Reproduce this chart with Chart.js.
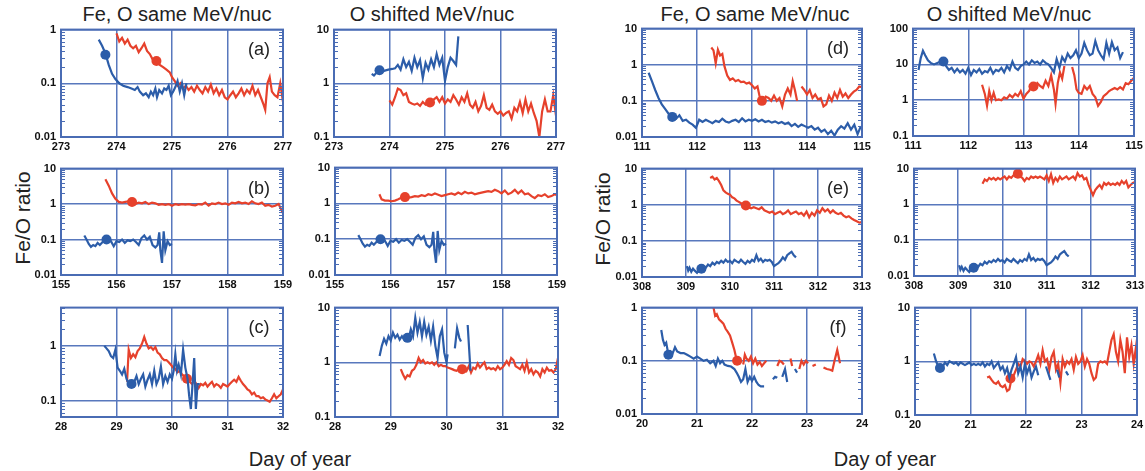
<!DOCTYPE html>
<html>
<head>
<meta charset="utf-8">
<script src="https://cdn.jsdelivr.net/npm/chart.js@4.4.1/dist/chart.umd.min.js"></script>
<style>
  body{margin:0;background:#fff;overflow:hidden;font-family:"Liberation Sans",Arial,sans-serif;}
  #fig{position:relative;width:1145px;height:471px;overflow:hidden;}
  .cv{position:absolute;}
  .txt{position:absolute;transform:translate(-50%,-50%);white-space:nowrap;color:#222;}
</style>
</head>
<body>
<div id="fig">
  <div class="txt" style="left:177px;top:14px;font-size:20px">Fe, O same MeV/nuc</div>
  <div class="txt" style="left:432px;top:14px;font-size:20px">O shifted MeV/nuc</div>
  <div class="txt" style="left:755px;top:14px;font-size:20px">Fe, O same MeV/nuc</div>
  <div class="txt" style="left:1009px;top:14px;font-size:20px">O shifted MeV/nuc</div>
  <div class="txt" style="left:23px;top:218px;font-size:21px;transform:translate(-50%,-50%) rotate(-90deg)">Fe/O ratio</div>
  <div class="txt" style="left:603px;top:219px;font-size:21px;transform:translate(-50%,-50%) rotate(-90deg)">Fe/O ratio</div>
  <div class="txt" style="left:300px;top:459px;font-size:20px">Day of year</div>
  <div class="txt" style="left:885px;top:459px;font-size:20px">Day of year</div>
</div>
<script>
// data: [day of year, Fe/O ratio], null = gap

// (a) Fe, O same MeV/nuc
const aBlue = [[273.68,0.65],[273.74,0.5],[273.8,0.36],[273.86,0.22],[273.92,0.15],[273.98,0.12],[274.05,0.1],[274.12,0.09],[274.2,0.085],[274.27,0.08],[274.33,0.075],[274.38,0.085],[274.42,0.07],[274.48,0.06],[274.53,0.065],[274.58,0.055],[274.62,0.07],[274.66,0.06],[274.7,0.08],[274.73,0.055],[274.77,0.075],[274.82,0.065],[274.86,0.08],[274.9,0.075],[274.94,0.09],[274.98,0.06],[275.02,0.07],[275.06,0.085],[275.1,0.11],[275.14,0.07],[275.18,0.1],[275.22,0.06],[275.26,0.1]];
const aRed = [[274.0,0.85],[274.05,0.6],[274.1,0.7],[274.15,0.55],[274.2,0.65],[274.25,0.5],[274.3,0.45],[274.35,0.5],[274.4,0.38],[274.45,0.45],[274.5,0.55],[274.55,0.4],[274.6,0.35],[274.65,0.28],[274.72,0.27],[274.78,0.22],[274.84,0.2],[274.9,0.18],[274.96,0.16],[275.0,0.13],[275.05,0.11],[275.1,0.09],[275.15,0.1],[275.2,0.08],[275.25,0.09],[275.3,0.075],[275.35,0.085],[275.4,0.07],[275.45,0.09],[275.5,0.075],[275.55,0.065],[275.6,0.085],[275.65,0.07],[275.7,0.095],[275.75,0.065],[275.8,0.08],[275.85,0.06],[275.9,0.075],[275.95,0.055],[276.0,0.05],[276.05,0.06],[276.1,0.07],[276.15,0.055],[276.2,0.065],[276.25,0.08],[276.3,0.06],[276.35,0.075],[276.4,0.065],[276.45,0.09],[276.5,0.06],[276.55,0.075],[276.6,0.055],[276.65,0.04],[276.68,0.032],[276.72,0.1],[276.76,0.13],[276.8,0.07],[276.85,0.06],[276.9,0.055],[276.95,0.1],[277.0,0.045]];
const aBlueDot = [273.8, 0.34];
const aRedDot = [274.72, 0.26];

// (a) O shifted
const a2Blue = [[273.68,1.5],[273.72,1.4],[273.76,1.55],[273.82,1.7],[273.9,1.7],[273.98,1.8],[274.05,1.85],[274.1,1.9],[274.15,2.2],[274.2,1.8],[274.25,2.8],[274.3,2.0],[274.35,2.5],[274.4,1.7],[274.45,3.0],[274.5,2.0],[274.55,2.7],[274.6,1.25],[274.65,2.4],[274.7,1.8],[274.75,2.8],[274.8,2.0],[274.85,3.5],[274.9,2.2],[274.95,3.0],[275.0,1.1],[275.05,2.0],[275.1,3.0],[275.15,2.6],[275.2,2.2],[275.24,7.5]];
const a2Red = [[274.0,0.48],[274.05,0.4],[274.1,0.55],[274.15,0.8],[274.2,0.75],[274.25,0.6],[274.3,0.65],[274.35,0.45],[274.4,0.42],[274.45,0.4],[274.5,0.42],[274.55,0.38],[274.6,0.45],[274.65,0.4],[274.7,0.43],[274.75,0.45],[274.8,0.5],[274.85,0.55],[274.9,0.45],[274.95,0.55],[275.0,0.42],[275.05,0.5],[275.1,0.45],[275.15,0.6],[275.2,0.5],[275.25,0.4],[275.3,0.55],[275.35,0.45],[275.4,0.65],[275.45,0.4],[275.5,0.35],[275.55,0.45],[275.6,0.3],[275.65,0.38],[275.7,0.6],[275.75,0.35],[275.8,0.32],[275.85,0.4],[275.9,0.3],[275.95,0.27],[276.0,0.3],[276.05,0.25],[276.1,0.28],[276.15,0.3],[276.2,0.22],[276.25,0.35],[276.3,0.3],[276.35,0.45],[276.4,0.28],[276.45,0.5],[276.5,0.3],[276.55,0.42],[276.6,0.28],[276.65,0.2],[276.7,0.1],[276.75,0.3],[276.8,0.5],[276.85,0.3],[276.9,0.3],[276.95,0.6],[277.0,0.25]];
const a2BlueDot = [273.82, 1.75];
const a2RedDot = [274.73, 0.44];

// (b) Fe, O same MeV/nuc
const bBlue = [[155.42,0.13],[155.46,0.1],[155.5,0.075],[155.54,0.062],[155.58,0.07],[155.62,0.065],[155.66,0.08],[155.7,0.07],[155.75,0.085],[155.8,0.1],[155.85,0.095],[155.9,0.09],[155.95,0.065],[156.0,0.09],[156.05,0.085],[156.1,0.1],[156.15,0.08],[156.2,0.095],[156.25,0.09],[156.3,0.1],[156.35,0.085],[156.4,0.07],[156.45,0.11],[156.5,0.13],[156.55,0.1],[156.6,0.12],[156.65,0.07],[156.7,0.06],[156.74,0.07],[156.77,0.16],[156.79,0.05],[156.82,0.022],[156.85,0.17],[156.88,0.05],[156.92,0.09],[156.96,0.07],[157.0,0.075]];
const bRed = [[155.8,5],[155.86,3.3],[155.92,2.0],[155.98,1.4],[156.04,1.15],[156.1,1.1],[156.16,1.15],[156.22,1.2],[156.28,1.15],[156.34,1.0],[156.4,1.1],[156.46,1.05],[156.52,1.15],[156.58,1.0],[156.64,1.1],[156.7,1.05],[156.76,0.95],[156.82,1.0],[156.88,0.95],[156.94,1.0],[157.0,0.9],[157.06,1.0],[157.12,0.95],[157.18,1.0],[157.24,0.97],[157.3,1.0],[157.36,0.95],[157.42,0.92],[157.48,1.0],[157.54,0.97],[157.6,1.1],[157.66,0.9],[157.72,1.05],[157.78,1.0],[157.84,1.1],[157.9,1.0],[157.96,1.05],[158.02,0.95],[158.08,1.1],[158.14,1.05],[158.2,1.15],[158.26,1.05],[158.32,1.1],[158.38,1.0],[158.44,1.2],[158.5,1.05],[158.56,1.0],[158.62,1.1],[158.68,0.9],[158.74,0.95],[158.8,0.85],[158.86,0.9],[158.92,1.0],[158.96,0.75],[159.0,0.55]];
const bBlueDot = [155.82, 0.1];
const bRedDot = [156.28, 1.15];

// (b) O shifted (Fe curve is the same as in (b))
const b2Blue = bBlue;
const b2Red = [[155.8,1.8],[155.84,1.3],[155.9,1.2],[155.96,1.2],[156.02,1.15],[156.08,1.2],[156.14,1.3],[156.2,1.45],[156.26,1.5],[156.32,1.45],[156.38,1.5],[156.44,1.6],[156.5,1.55],[156.56,1.7],[156.62,1.6],[156.68,1.8],[156.74,1.7],[156.8,1.9],[156.86,1.75],[156.92,1.6],[156.98,1.7],[157.04,1.8],[157.1,1.9],[157.16,1.75],[157.22,2.0],[157.28,1.8],[157.34,2.1],[157.4,1.9],[157.46,2.0],[157.52,1.8],[157.58,1.9],[157.64,2.0],[157.7,2.1],[157.76,2.2],[157.82,2.1],[157.88,2.4],[157.94,2.2],[158.0,1.9],[158.06,2.3],[158.12,1.8],[158.18,2.0],[158.24,2.4],[158.3,1.9],[158.36,2.3],[158.42,1.8],[158.48,1.9],[158.54,1.6],[158.6,1.4],[158.66,1.7],[158.72,1.6],[158.78,1.8],[158.84,1.5],[158.9,1.6],[158.96,1.8],[159.0,1.7]];
const b2BlueDot = [155.82, 0.1];
const b2RedDot = [156.26, 1.5];

// (c) Fe, O same MeV/nuc
const cBlue = [[28.78,1.0],[28.82,0.9],[28.86,0.8],[28.9,0.65],[28.94,0.6],[28.98,0.85],[29.02,0.4],[29.06,0.35],[29.1,0.3],[29.14,0.38],[29.18,0.25],[29.22,0.2],[29.27,0.2],[29.32,0.22],[29.36,0.28],[29.4,0.2],[29.44,0.25],[29.48,0.3],[29.52,0.18],[29.56,0.24],[29.6,0.3],[29.64,0.2],[29.68,0.35],[29.72,0.2],[29.76,0.25],[29.8,0.42],[29.84,0.2],[29.88,0.28],[29.92,0.22],[29.96,0.3],[30.0,0.25],[30.03,0.35],[30.06,0.7],[30.09,0.35],[30.12,0.45],[30.16,0.3],[30.2,0.85],[30.24,0.4],[30.28,0.25],[30.31,0.12],[30.34,0.07],[30.37,0.2],[30.4,0.6],[30.43,0.07],[30.46,0.2],[30.5,0.2]];
const cRed = [[29.19,0.22],[29.22,0.85],[29.26,0.6],[29.3,0.7],[29.34,0.62],[29.38,0.8],[29.42,0.9],[29.46,1.1],[29.5,1.45],[29.54,1.1],[29.58,0.9],[29.62,0.95],[29.66,0.85],[29.7,0.95],[29.74,0.75],[29.78,0.7],[29.82,0.6],[29.86,0.55],[29.9,0.55],[29.94,0.5],[29.98,0.45],[30.02,0.4],[30.06,0.38],[30.1,0.33],[30.14,0.35],[30.18,0.3],[30.22,0.28],[30.27,0.25],[30.32,0.22],[30.36,0.2],[30.4,0.23],[30.44,0.2],[30.48,0.17],[30.52,0.2],[30.56,0.19],[30.6,0.21],[30.64,0.18],[30.68,0.2],[30.72,0.22],[30.76,0.18],[30.8,0.2],[30.84,0.19],[30.88,0.17],[30.92,0.2],[30.96,0.19],[31.0,0.18],[31.04,0.2],[31.08,0.22],[31.12,0.24],[31.16,0.22],[31.2,0.27],[31.24,0.23],[31.28,0.2],[31.32,0.18],[31.36,0.16],[31.4,0.15],[31.44,0.13],[31.48,0.14],[31.52,0.12],[31.56,0.12],[31.6,0.11],[31.64,0.115],[31.68,0.105],[31.72,0.1],[31.76,0.095],[31.8,0.11],[31.84,0.13],[31.88,0.11],[31.92,0.12],[31.96,0.13],[32.0,0.16]];
const cBlueDot = [29.27, 0.2];
const cRedDot = [30.27, 0.25];

// (c) O shifted
const c2Blue = [[28.8,1.3],[28.84,2.0],[28.88,2.7],[28.92,2.2],[28.96,3.0],[29.0,2.5],[29.04,3.5],[29.08,2.8],[29.12,3.2],[29.16,2.6],[29.2,3.0],[29.24,2.6],[29.28,3.0],[29.32,2.7],[29.36,4.0],[29.4,3.0],[29.44,6.5],[29.48,3.5],[29.52,5.5],[29.56,3.0],[29.6,5.5],[29.64,3.2],[29.68,4.5],[29.72,2.5],[29.76,4.5],[29.8,2.0],[29.84,1.2],[29.88,3.0],[29.92,4.0],[29.96,1.5],[30.0,1.0],[30.02,1.4],[30.05,null],[30.15,1.8],[30.19,4.2],[30.23,2.8],[30.26,2.4],[30.3,null],[30.38,4.8],[30.43,0.7]];
const c2Red = [[29.18,0.75],[29.22,0.6],[29.26,0.5],[29.3,0.58],[29.34,0.55],[29.38,0.7],[29.42,0.75],[29.46,0.9],[29.5,1.2],[29.54,1.0],[29.58,1.1],[29.62,0.95],[29.66,1.0],[29.7,0.95],[29.74,1.0],[29.78,0.9],[29.82,1.0],[29.86,0.85],[29.9,0.9],[29.94,0.85],[29.98,0.85],[30.02,0.8],[30.06,0.78],[30.1,0.75],[30.14,0.72],[30.18,0.7],[30.22,0.75],[30.28,0.77],[30.32,0.8],[30.36,0.7],[30.4,0.85],[30.44,0.65],[30.48,0.8],[30.52,0.75],[30.56,0.95],[30.6,0.8],[30.64,0.9],[30.68,1.0],[30.72,0.75],[30.76,0.8],[30.8,0.75],[30.84,0.78],[30.88,0.72],[30.92,0.85],[30.96,0.75],[31.0,0.8],[31.04,0.9],[31.08,1.05],[31.12,0.9],[31.16,1.2],[31.2,1.1],[31.24,0.85],[31.28,0.8],[31.32,0.75],[31.36,0.9],[31.4,0.7],[31.44,1.0],[31.48,0.65],[31.52,0.75],[31.56,0.6],[31.6,0.7],[31.64,0.65],[31.68,0.55],[31.72,0.75],[31.76,0.65],[31.8,0.8],[31.84,0.7],[31.88,0.72],[31.92,0.65],[31.96,0.75],[32.0,1.2]];
const c2BlueDot = [29.3, 2.8];
const c2RedDot = [30.28, 0.75];

// (d) Fe, O same MeV/nuc
const dBlue = [[111.12,0.6],[111.18,0.35],[111.24,0.2],[111.3,0.12],[111.36,0.08],[111.42,0.06],[111.48,0.045],[111.55,0.036],[111.62,0.032],[111.68,0.04],[111.74,0.028],[111.8,0.03],[111.86,0.025],[111.92,0.022],[111.98,0.018],[112.04,0.03],[112.1,0.026],[112.16,0.03],[112.22,0.027],[112.28,0.024],[112.34,0.028],[112.4,0.026],[112.46,0.032],[112.52,0.027],[112.58,0.025],[112.64,0.028],[112.7,0.03],[112.76,0.026],[112.82,0.033],[112.88,0.027],[112.94,0.03],[113.0,0.028],[113.06,0.031],[113.12,0.027],[113.18,0.03],[113.24,0.026],[113.3,0.028],[113.36,0.025],[113.42,0.027],[113.48,0.024],[113.54,0.026],[113.6,0.023],[113.66,0.025],[113.72,0.02],[113.78,0.023],[113.84,0.019],[113.9,0.022],[113.96,0.02],[114.02,0.018],[114.08,0.02],[114.14,0.016],[114.2,0.018],[114.26,0.014],[114.32,0.016],[114.38,0.012],[114.44,0.015],[114.5,0.011],[114.56,0.016],[114.62,0.02],[114.68,0.017],[114.74,0.024],[114.8,0.016],[114.86,0.022],[114.92,0.012],[114.98,0.02]];
const dRed = [[112.26,3.0],[112.3,2.5],[112.34,1.1],[112.38,2.6],[112.42,1.8],[112.46,2.0],[112.5,0.9],[112.55,0.5],[112.6,0.38],[112.65,0.42],[112.7,0.35],[112.75,0.38],[112.8,0.33],[112.85,0.34],[112.9,0.3],[112.95,0.32],[113.0,0.27],[113.05,0.22],[113.1,0.25],[113.15,0.11],[113.2,0.1],[113.25,0.13],[113.3,0.12],[113.35,0.1],[113.4,0.14],[113.45,0.1],[113.5,0.12],[113.55,0.07],[113.6,0.15],[113.65,0.22],[113.7,0.15],[113.74,0.35],[113.78,0.2],[113.82,0.1],[113.86,null],[113.9,0.25],[113.95,0.2],[114.0,0.15],[114.05,0.2],[114.1,0.12],[114.15,0.15],[114.2,0.11],[114.25,0.12],[114.3,0.07],[114.35,0.08],[114.4,0.14],[114.45,0.1],[114.5,0.17],[114.55,0.12],[114.6,0.2],[114.65,0.13],[114.7,0.16],[114.75,0.12],[114.8,0.15],[114.85,0.18],[114.9,0.2],[114.95,0.25],[115.0,0.24]];
const dBlueDot = [111.55, 0.036];
const dRedDot = [113.18, 0.1];

// (d) O shifted
const d2Blue = [[111.1,7],[111.14,15],[111.18,24],[111.22,18],[111.27,13],[111.32,11],[111.38,10],[111.44,11],[111.5,12],[111.55,12],[111.6,9],[111.65,7],[111.7,8],[111.75,6],[111.8,7.5],[111.85,6],[111.9,7],[111.95,5.5],[112.0,8],[112.05,5],[112.1,7],[112.15,6],[112.2,7.5],[112.25,5.5],[112.3,6.5],[112.35,6],[112.4,8],[112.45,5.5],[112.5,7],[112.55,6.5],[112.6,8],[112.65,6],[112.7,9],[112.75,7],[112.8,12],[112.85,8],[112.9,7],[112.95,9],[113.0,10],[113.05,12],[113.1,10],[113.15,13],[113.2,11],[113.25,12],[113.3,10],[113.35,13],[113.4,11],[113.45,10],[113.5,8],[113.55,6],[113.6,14],[113.65,8],[113.7,16],[113.75,12],[113.8,20],[113.85,15],[113.9,18],[113.95,25],[114.0,15],[114.05,20],[114.1,40],[114.15,25],[114.2,18],[114.25,20],[114.3,45],[114.35,25],[114.4,18],[114.45,14],[114.5,40],[114.55,20],[114.6,42],[114.65,25],[114.7,30],[114.75,15],[114.8,22]];
const d2Red = [[112.25,2.7],[112.3,1.5],[112.34,0.7],[112.38,1.8],[112.42,1.0],[112.46,1.6],[112.5,1.0],[112.55,1.05],[112.6,1.0],[112.65,1.2],[112.7,1.1],[112.75,1.4],[112.8,1.2],[112.85,1.5],[112.9,1.3],[112.95,1.8],[113.0,1.1],[113.05,1.5],[113.1,1.8],[113.15,2.5],[113.2,2.2],[113.25,3.0],[113.3,2.5],[113.35,2.2],[113.4,3.5],[113.45,2.5],[113.5,5],[113.55,2.0],[113.58,0.8],[113.62,3],[113.66,6],[113.7,4],[113.74,9],[113.78,null],[113.88,8.5],[113.92,5],[113.96,2],[114.0,1.6],[114.05,1.5],[114.1,2.5],[114.15,2],[114.2,2.5],[114.25,1.5],[114.3,1.2],[114.35,0.7],[114.4,0.9],[114.45,1.3],[114.5,1.5],[114.55,1.8],[114.6,2.0],[114.65,2.2],[114.7,2.0],[114.75,2.3],[114.8,2.0],[114.85,3.0],[114.9,2.8],[114.95,3.5],[115.0,4.2]];
const d2BlueDot = [111.55, 12];
const d2RedDot = [113.18, 2.4];

// (e) Fe, O same MeV/nuc
const eBlue = [[309.02,0.02],[309.05,0.015],[309.08,0.018],[309.12,0.014],[309.16,0.017],[309.2,0.015],[309.25,0.013],[309.3,0.016],[309.35,0.017],[309.4,0.02],[309.45,0.018],[309.5,0.022],[309.55,0.02],[309.6,0.025],[309.65,0.022],[309.7,0.026],[309.75,0.024],[309.8,0.028],[309.85,0.025],[309.9,0.03],[309.95,0.026],[310.0,0.028],[310.05,0.024],[310.1,0.03],[310.15,0.027],[310.2,0.025],[310.25,0.03],[310.3,0.026],[310.35,0.023],[310.4,0.028],[310.45,0.025],[310.5,0.03],[310.55,0.027],[310.6,0.04],[310.65,0.028],[310.7,0.032],[310.75,0.026],[310.8,0.03],[310.85,0.028],[310.9,0.03],[310.95,0.026],[311.0,0.02],[311.05,0.022],[311.1,0.024],[311.15,0.028],[311.2,0.035],[311.25,0.03],[311.3,0.04],[311.35,0.045],[311.4,0.05],[311.45,0.04],[311.5,0.035]];
const eRed = [[309.55,5.5],[309.6,6],[309.65,5],[309.7,5.5],[309.75,4.5],[309.8,3.5],[309.85,2.5],[309.9,2.2],[309.95,2.0],[310.0,1.9],[310.05,1.6],[310.1,1.5],[310.15,1.3],[310.2,1.2],[310.25,1.1],[310.3,1.0],[310.36,0.95],[310.42,0.85],[310.48,0.8],[310.54,0.85],[310.6,0.8],[310.66,0.75],[310.72,0.85],[310.78,0.7],[310.84,0.65],[310.9,0.6],[310.96,0.65],[311.02,0.55],[311.08,0.6],[311.14,0.65],[311.2,0.55],[311.26,0.6],[311.32,0.7],[311.38,0.55],[311.44,0.6],[311.5,0.65],[311.56,0.55],[311.62,0.6],[311.68,0.5],[311.74,0.65],[311.8,0.45],[311.86,0.6],[311.92,0.5],[311.98,0.7],[312.04,0.6],[312.1,0.8],[312.16,0.65],[312.22,0.75],[312.28,0.6],[312.34,0.7],[312.4,0.6],[312.46,0.55],[312.52,0.6],[312.58,0.5],[312.64,0.45],[312.7,0.48],[312.76,0.42],[312.82,0.38],[312.88,0.35],[312.94,0.32],[313.0,0.33]];
const eBlueDot = [309.35, 0.017];
const eRedDot = [310.36, 0.95];

// (e) O shifted (Fe curve is the same as in (e))
const e2Blue = eBlue;
const e2Red = [[309.55,3.8],[309.6,5],[309.65,4.5],[309.7,5.5],[309.75,5],[309.8,5.5],[309.85,4.8],[309.9,5.5],[309.95,5],[310.0,5.5],[310.05,6],[310.1,5],[310.15,6],[310.2,5.5],[310.25,6.5],[310.3,6.5],[310.35,7.2],[310.4,6],[310.45,5.5],[310.5,4.5],[310.55,5.5],[310.6,5],[310.65,6],[310.7,5.5],[310.75,6],[310.8,5.5],[310.85,6],[310.9,5.5],[310.95,5],[311.0,6.5],[311.05,4.5],[311.1,7],[311.15,4],[311.2,5.5],[311.25,4.5],[311.3,6],[311.35,5],[311.4,5.5],[311.45,6],[311.5,5],[311.55,5.5],[311.6,6],[311.65,5],[311.7,7.5],[311.75,6],[311.8,6.5],[311.85,5],[311.9,5.5],[311.95,3.5],[312.0,2.5],[312.05,1.8],[312.1,2.5],[312.15,3],[312.2,3.5],[312.25,2.8],[312.3,4],[312.35,3.5],[312.4,4],[312.45,3.5],[312.5,3.8],[312.55,3.5],[312.6,4],[312.65,3.5],[312.7,4.5],[312.75,3.8],[312.8,4.5],[312.85,3],[312.9,3.5],[312.95,4],[313.0,4.2]];
const e2BlueDot = [309.35, 0.017];
const e2RedDot = [310.35, 7.2];

// (f) Fe, O same MeV/nuc
const fBlue = [[20.35,0.38],[20.38,0.25],[20.41,0.2],[20.44,0.22],[20.48,0.13],[20.52,0.15],[20.56,0.14],[20.6,0.18],[20.64,0.15],[20.7,0.14],[20.76,0.14],[20.82,0.13],[20.88,0.12],[20.94,0.11],[21.0,0.12],[21.06,0.11],[21.12,0.1],[21.18,0.105],[21.24,0.09],[21.3,0.1],[21.34,0.08],[21.38,0.11],[21.42,0.09],[21.46,0.1],[21.5,0.085],[21.56,0.08],[21.62,0.078],[21.68,0.07],[21.72,0.06],[21.76,0.05],[21.8,0.04],[21.84,0.045],[21.88,0.07],[21.92,0.04],[21.96,0.05],[22.0,0.042],[22.04,0.05],[22.08,0.04],[22.12,0.035],[22.16,0.033],[22.22,0.033],[22.26,null],[22.38,0.045],[22.42,0.05],[22.46,0.048],[22.5,null],[22.55,0.05],[22.6,0.07],[22.64,0.04],[22.68,null],[22.78,0.07],[22.82,0.06]];
const fRed = [[21.3,1.0],[21.33,0.7],[21.36,0.75],[21.4,0.6],[21.44,0.55],[21.48,0.5],[21.52,0.4],[21.56,0.35],[21.6,0.3],[21.64,0.22],[21.68,0.16],[21.72,0.105],[21.76,null],[21.84,0.085],[21.87,0.13],[21.9,0.11],[21.94,0.1],[21.98,0.12],[22.02,0.09],[22.06,0.11],[22.1,0.085],[22.14,0.095],[22.18,0.08],[22.22,0.09],[22.26,0.1],[22.3,null],[22.46,0.08],[22.5,0.1],[22.54,0.095],[22.58,0.085],[22.62,null],[22.7,0.11],[22.73,0.08],[22.76,null],[22.86,0.07],[22.9,0.1],[22.94,0.085],[22.98,0.1],[23.02,0.09],[23.05,null],[23.1,0.08],[23.16,0.085],[23.2,null],[23.3,0.075],[23.36,0.07],[23.42,0.068],[23.46,0.065],[23.5,0.1],[23.55,0.16],[23.6,0.09]];
const fBlueDot = [20.48, 0.13];
const fRedDot = [21.73, 0.1];

// (f) O shifted
const f2Blue = [[20.34,1.4],[20.38,1.0],[20.42,0.8],[20.46,0.75],[20.5,0.8],[20.54,0.95],[20.58,0.85],[20.62,1.0],[20.66,0.95],[20.7,0.9],[20.74,0.95],[20.78,0.85],[20.82,0.95],[20.86,0.9],[20.9,0.85],[20.94,0.9],[20.98,0.95],[21.02,0.85],[21.06,0.9],[21.1,0.85],[21.14,0.9],[21.18,0.85],[21.22,0.95],[21.26,0.8],[21.3,0.9],[21.34,0.85],[21.38,1.0],[21.42,0.75],[21.46,0.85],[21.5,0.95],[21.54,0.7],[21.58,0.8],[21.62,0.6],[21.66,0.75],[21.7,0.5],[21.74,0.7],[21.78,0.9],[21.82,1.2],[21.86,0.6],[21.9,0.8],[21.94,0.5],[21.98,0.9],[22.02,0.6],[22.06,0.8],[22.1,0.5],[22.14,0.65],[22.18,0.8],[22.22,0.55],[22.26,null],[22.36,0.8],[22.4,0.6],[22.44,0.45],[22.48,null],[22.56,0.7],[22.6,0.5],[22.64,null],[22.72,0.65],[22.76,0.55]];
const f2Red = [[21.3,0.5],[21.34,0.52],[21.38,0.45],[21.42,0.4],[21.46,0.38],[21.5,0.42],[21.54,0.35],[21.58,0.33],[21.62,0.36],[21.66,0.28],[21.7,0.3],[21.74,0.48],[21.78,0.55],[21.82,0.7],[21.86,0.9],[21.9,0.8],[21.94,1.1],[21.98,1.0],[22.02,0.9],[22.06,1.0],[22.1,0.95],[22.14,0.8],[22.18,1.0],[22.22,1.3],[22.26,0.9],[22.3,1.6],[22.34,1.0],[22.38,1.1],[22.42,0.7],[22.46,1.2],[22.5,1.5],[22.54,0.7],[22.58,0.9],[22.62,0.4],[22.66,1.1],[22.7,0.8],[22.74,1.0],[22.78,0.9],[22.82,1.1],[22.86,0.7],[22.9,1.2],[22.94,0.9],[22.98,1.0],[23.02,1.3],[23.06,0.8],[23.1,1.1],[23.14,0.9],[23.18,0.6],[23.22,0.45],[23.26,0.5],[23.3,0.9],[23.34,1.0],[23.38,0.95],[23.42,1.0],[23.46,0.9],[23.5,1.5],[23.54,2.5],[23.58,3.2],[23.62,1.5],[23.66,1.0],[23.7,2.5],[23.74,1.5],[23.78,0.6],[23.82,2.8],[23.86,1.2],[23.9,2.0],[23.94,0.9],[23.98,1.8],[24.0,1.0]];
const f2BlueDot = [20.45, 0.75];
const f2RedDot = [21.72, 0.48];

// axis ranges
const aDays = [273, 277], bDays = [155, 159], cDays = [28, 32];
const dDays = [111, 115], eDays = [308, 313], fDays = [20, 24];

const BLUE  = '#2c5da9';
const RED   = '#e6412c';
const FRAME = '#4a6cb4';
const GRID  = '#5878bd';
const AXW = 45, AXH = 20, PADT = 10, PADR = 18;

// layout: chart area boxes [left, top, right, bottom]
const panels = [
  {box:[61,28,283,137],   x:aDays, y:[0.01,1],  blue:aBlue,  red:aRed,  bd:aBlueDot,  rd:aRedDot,  label:'(a)'},
  {box:[334,28,556,137],  x:aDays, y:[0.1,10],  blue:a2Blue, red:a2Red, bd:a2BlueDot, rd:a2RedDot},
  {box:[642,27,862,137],  x:dDays, y:[0.01,10], blue:dBlue,  red:dRed,  bd:dBlueDot,  rd:dRedDot,  label:'(d)'},
  {box:[913,27,1134,136], x:dDays, y:[0.1,100], blue:d2Blue, red:d2Red, bd:d2BlueDot, rd:d2RedDot},
  {box:[61,167,283,275],  x:bDays, y:[0.01,10], blue:bBlue,  red:bRed,  bd:bBlueDot,  rd:bRedDot,  label:'(b)'},
  {box:[335,166,557,275], x:bDays, y:[0.01,10], blue:b2Blue, red:b2Red, bd:b2BlueDot, rd:b2RedDot},
  {box:[642,167,862,277], x:eDays, y:[0.01,10], blue:eBlue,  red:eRed,  bd:eBlueDot,  rd:eRedDot,  label:'(e)'},
  {box:[914,167,1135,276],x:eDays, y:[0.01,10], blue:e2Blue, red:e2Red, bd:e2BlueDot, rd:e2RedDot},
  {box:[61,306,283,417],  x:cDays, y:[0.05,5],  blue:cBlue,  red:cRed,  bd:cBlueDot,  rd:cRedDot,  label:'(c)'},
  {box:[335,306,558,417], x:cDays, y:[0.1,10],  blue:c2Blue, red:c2Red, bd:c2BlueDot, rd:c2RedDot},
  {box:[642,306,862,414], x:fDays, y:[0.01,1],  blue:fBlue,  red:fRed,  bd:fBlueDot,  rd:fRedDot,  label:'(f)'},
  {box:[915,306,1137,415],x:fDays, y:[0.1,10],  blue:f2Blue, red:f2Red, bd:f2BlueDot, rd:f2RedDot}
];

function isDecade(v){
  const l = Math.log10(v);
  return Math.abs(l - Math.round(l)) < 1e-6;
}

function logTicks(min, max){
  const out = [];
  for(let e = Math.floor(Math.log10(min)); e <= Math.ceil(Math.log10(max)); e++){
    for(let m = 1; m < 10; m++){
      const v = +(m * Math.pow(10, e)).toPrecision(6);
      if(v >= min*0.9999 && v <= max*1.0001) out.push({value:v});
    }
  }
  return out;
}

const toPts = arr => arr.map(([x, y]) => ({x, y}));

// frame, inside minor ticks and panel letter
const framePlugin = {
  id:'frame',
  afterDatasetsDraw(chart, args, opts){
    const {ctx, chartArea:a} = chart;
    const y = chart.scales.y;
    ctx.save();
    ctx.strokeStyle = FRAME;
    ctx.lineWidth = 1;
    y.ticks.forEach(t=>{
      if(isDecade(t.value)) return;
      const py = Math.round(y.getPixelForValue(t.value)) + 0.5;
      ctx.beginPath();
      ctx.moveTo(a.left, py);  ctx.lineTo(a.left+4, py);
      ctx.moveTo(a.right, py); ctx.lineTo(a.right-4, py);
      ctx.stroke();
    });
    ctx.lineWidth = 2;
    ctx.strokeRect(a.left, a.top, a.right-a.left, a.bottom-a.top);
    if(opts.label){
      ctx.fillStyle = '#222';
      ctx.font = '18px "Liberation Sans", Arial, sans-serif';
      ctx.textAlign = 'center';
      ctx.textBaseline = 'middle';
      ctx.fillText(opts.label, a.right-24, a.top+20);
    }
    ctx.restore();
  }
};

const fig = document.getElementById('fig');
const tickFont = {family:'"Liberation Sans", Arial, sans-serif', size:11, weight:'bold'};

panels.forEach(p=>{
  const [L, T, R, B] = p.box;
  const cv = document.createElement('canvas');
  cv.className = 'cv';
  cv.width  = (R-L) + AXW + PADR;
  cv.height = (B-T) + PADT + AXH;
  cv.style.left = (L-AXW) + 'px';
  cv.style.top  = (T-PADT) + 'px';
  fig.appendChild(cv);

  const line = (data, color) => ({
    data: toPts(data), borderColor: color, borderWidth: 2.2,
    pointRadius: 0, tension: 0, spanGaps: false, fill: false
  });
  const dot = (d, color) => ({
    data: [{x:d[0], y:d[1]}], showLine: false,
    pointRadius: 5, pointBackgroundColor: color, pointBorderColor: color, pointBorderWidth: 0
  });

  new Chart(cv.getContext('2d'), {
    type:'line',
    data:{ datasets:[ line(p.blue, BLUE), dot(p.bd, BLUE), line(p.red, RED), dot(p.rd, RED) ] },
    options:{
      responsive:false,
      animation:false,
      layout:{ padding:{top:PADT, right:PADR, left:0, bottom:0} },
      plugins:{ legend:{display:false}, tooltip:{enabled:false}, frame:{label:p.label} },
      scales:{
        x:{
          type:'linear', min:p.x[0], max:p.x[1],
          ticks:{ stepSize:1, color:'#111', font:tickFont, padding:3, autoSkip:false, maxRotation:0 },
          grid:{ color:GRID, lineWidth:1.5, drawTicks:false },
          border:{ display:false },
          afterFit: s => { s.height = AXH; }
        },
        y:{
          type:'logarithmic', min:p.y[0], max:p.y[1],
          afterBuildTicks: s => { s.ticks = logTicks(p.y[0], p.y[1]); },
          ticks:{
            autoSkip:false, color:'#111', font:tickFont, padding:5,
            callback: v => isDecade(v) ? String(+v.toPrecision(3)) : ''
          },
          grid:{ color: c => isDecade(c.tick.value) ? GRID : 'rgba(0,0,0,0)', lineWidth:1.5, drawTicks:false },
          border:{ display:false },
          afterFit: s => { s.width = AXW; }
        }
      }
    },
    plugins:[framePlugin]
  });
});
</script>
</body>
</html>
